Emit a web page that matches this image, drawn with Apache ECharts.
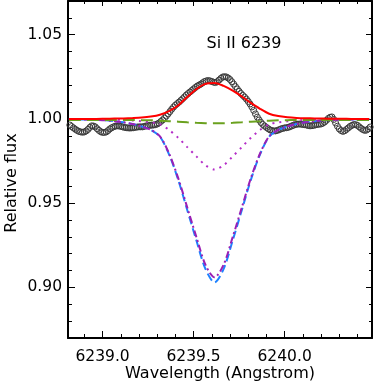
<!DOCTYPE html>
<html><head><meta charset="utf-8">
<script src="https://cdn.jsdelivr.net/npm/echarts@6/dist/echarts.min.js"></script>
<style>html,body{margin:0;padding:0;background:#fff}#c{width:374px;height:386px}</style>
</head><body><div id="c"></div>
<script>
// Model wavelength grid (Angstrom)
const xModel = [6238.815,6238.865,6238.915,6238.965,6239.015,6239.065,6239.115,6239.165,6239.215,6239.265,
  6239.315,6239.365,6239.415,6239.465,6239.515,6239.565,6239.615,6239.665,6239.715,6239.765,
  6239.815,6239.865,6239.915,6239.965,6240.015,6240.065,6240.115,6240.165,6240.215,6240.265,
  6240.315,6240.365,6240.415,6240.465];
// Emission fit (red solid)
const redFit = [1.0000,1.0000,1.0000,1.0000,1.0001,1.0002,1.0003,1.0005,1.0008,1.0014,
  1.0025,1.0047,1.0080,1.0130,1.0176,1.0208,1.0214,1.0196,1.0168,1.0133,
  1.0095,1.0060,1.0031,1.0017,1.0010,1.0006,1.0004,1.0003,1.0002,1.0001,
  1.0001,1.0000,1.0000,1.0000];
// Green dashed
const greenFit = [0.9994,0.9994,0.9994,0.9994,0.9994,0.9994,0.9994,0.9994,0.9993,0.9992,
  0.9990,0.9987,0.9984,0.9980,0.9977,0.9975,0.9974,0.9975,0.9977,0.9980,
  0.9984,0.9987,0.9990,0.9992,0.9993,0.9994,0.9994,0.9994,0.9994,0.9994,
  0.9994,0.9994,0.9994,0.9994];
// Magenta dotted
const dotFit = [0.9999,0.9999,0.9999,0.9998,0.9998,0.9996,0.9994,0.9991,0.9986,0.9980,
  0.9968,0.9935,0.9889,0.9833,0.9778,0.9725,0.9700,0.9725,0.9778,0.9833,
  0.9889,0.9935,0.9968,0.9980,0.9986,0.9991,0.9994,0.9996,0.9998,0.9998,
  0.9999,0.9999,0.9999,1.0000];
// Blue dashed
const blueFit = [0.9998,0.9997,0.9996,0.9995,0.9992,0.9987,0.9980,0.9970,0.9955,0.9935,
  0.9895,0.9790,0.9640,0.9460,0.9280,0.9110,0.9030,0.9110,0.9280,0.9460,
  0.9640,0.9790,0.9895,0.9935,0.9955,0.9970,0.9980,0.9987,0.9992,0.9995,
  0.9996,0.9997,0.9998,0.9999];
// Purple dash-dot
const purpleFit = [0.9998,0.9997,0.9996,0.9995,0.9992,0.9987,0.9980,0.9970,0.9955,0.9935,
  0.9897,0.9795,0.9650,0.9475,0.9300,0.9135,0.9060,0.9135,0.9300,0.9475,
  0.9650,0.9795,0.9897,0.9935,0.9955,0.9970,0.9980,0.9987,0.9992,0.9995,
  0.9996,0.9997,0.9998,0.9999];
// Observed spectrum (open circles), 0.01 A sampling from 6238.82
const xObs = [6238.82,6238.83,6238.84,6238.85,6238.86,6238.87,6238.88,6238.89,6238.90,6238.91,
  6238.92,6238.93,6238.94,6238.95,6238.96,6238.97,6238.98,6238.99,6239.00,6239.01,
  6239.02,6239.03,6239.04,6239.05,6239.06,6239.07,6239.08,6239.09,6239.10,6239.11,
  6239.12,6239.13,6239.14,6239.15,6239.16,6239.17,6239.18,6239.19,6239.20,6239.21,
  6239.22,6239.23,6239.24,6239.25,6239.26,6239.27,6239.28,6239.29,6239.30,6239.31,
  6239.32,6239.33,6239.34,6239.35,6239.36,6239.37,6239.38,6239.39,6239.40,6239.41,
  6239.42,6239.43,6239.44,6239.45,6239.46,6239.47,6239.48,6239.49,6239.50,6239.51,
  6239.52,6239.53,6239.54,6239.55,6239.56,6239.57,6239.58,6239.59,6239.60,6239.61,
  6239.62,6239.63,6239.64,6239.65,6239.66,6239.67,6239.68,6239.69,6239.70,6239.71,
  6239.72,6239.73,6239.74,6239.75,6239.76,6239.77,6239.78,6239.79,6239.80,6239.81,
  6239.82,6239.83,6239.84,6239.85,6239.86,6239.87,6239.88,6239.89,6239.90,6239.91,
  6239.92,6239.93,6239.94,6239.95,6239.96,6239.97,6239.98,6239.99,6240.00,6240.01,
  6240.02,6240.03,6240.04,6240.05,6240.06,6240.07,6240.08,6240.09,6240.10,6240.11,
  6240.12,6240.13,6240.14,6240.15,6240.16,6240.17,6240.18,6240.19,6240.20,6240.21,
  6240.22,6240.23,6240.24,6240.25,6240.26,6240.27,6240.28,6240.29,6240.30,6240.31,
  6240.32,6240.33,6240.34,6240.35,6240.36,6240.37,6240.38,6240.39,6240.40,6240.41,
  6240.42,6240.43,6240.44,6240.45,6240.46,6240.47];
const yObs = [0.9964,0.9955,0.9947,0.9939,0.9932,0.9926,0.9923,0.9921,0.9923,0.9929,
  0.9938,0.9950,0.9959,0.9958,0.9953,0.9942,0.9932,0.9924,0.9920,0.9920,
  0.9923,0.9931,0.9941,0.9948,0.9953,0.9957,0.9959,0.9958,0.9956,0.9953,
  0.9950,0.9948,0.9947,0.9946,0.9947,0.9948,0.9950,0.9952,0.9953,0.9953,
  0.9953,0.9956,0.9959,0.9961,0.9962,0.9963,0.9964,0.9966,0.9970,0.9976,
  0.9985,0.9994,1.0005,1.0017,1.0030,1.0044,1.0058,1.0071,1.0082,1.0091,
  1.0100,1.0110,1.0120,1.0131,1.0142,1.0151,1.0160,1.0169,1.0178,1.0187,
  1.0195,1.0201,1.0207,1.0215,1.0222,1.0226,1.0228,1.0226,1.0222,1.0218,
  1.0216,1.0221,1.0231,1.0241,1.0249,1.0251,1.0249,1.0243,1.0234,1.0221,
  1.0207,1.0192,1.0178,1.0164,1.0151,1.0140,1.0130,1.0118,1.0104,1.0089,
  1.0071,1.0051,1.0030,1.0011,0.9994,0.9979,0.9967,0.9958,0.9950,0.9942,
  0.9935,0.9931,0.9929,0.9929,0.9932,0.9936,0.9941,0.9944,0.9947,0.9948,
  0.9950,0.9954,0.9959,0.9963,0.9967,0.9969,0.9970,0.9969,0.9967,0.9966,
  0.9964,0.9961,0.9959,0.9960,0.9962,0.9965,0.9967,0.9969,0.9970,0.9975,
  0.9982,0.9992,1.0003,1.0010,1.0012,0.9997,0.9976,0.9957,0.9941,0.9931,
  0.9926,0.9930,0.9938,0.9947,0.9956,0.9962,0.9967,0.9966,0.9962,0.9953,
  0.9944,0.9937,0.9932,0.9934,0.9941,0.9952];
// Ticks
const xMajor = [6239.0, 6239.5, 6240.0];
const xMinor = [6238.9,6239.1,6239.2,6239.3,6239.4,6239.6,6239.7,6239.8,6239.9,6240.1,6240.2,6240.3,6240.4];
const yMajor = [0.90, 0.95, 1.00, 1.05];
const yMinor = [0.88,0.89,0.91,0.92,0.93,0.94,0.96,0.97,0.98,0.99,1.01,1.02,1.03,1.04,1.06];
const X_MIN = 6238.81, X_MAX = 6240.48, Y_MIN = 0.87, Y_MAX = 1.07;

const FONT = '"DejaVu Sans", sans-serif';
const pair = (xs, ys) => xs.map((x, i) => [x, ys[i]]);

function mkAxis(kind, pos, ticks, len, showLine, showLabel) {
  const isX = kind === 'x';
  return {
    type: 'value', position: pos,
    min: isX ? X_MIN : Y_MIN, max: isX ? X_MAX : Y_MAX,
    splitLine: {show: false},
    axisLine: {show: showLine, onZero: false, lineStyle: {color: '#000', width: 2}},
    axisTick: {show: true, inside: true, length: len, customValues: ticks, lineStyle: {color: '#000', width: 1}},
    axisLabel: showLabel ? {
      show: true, customValues: ticks, color: '#000', fontFamily: FONT, fontSize: 15.5,
      margin: isX ? 11 : 6,
      formatter: v => isX ? v.toFixed(1) : v.toFixed(2)
    } : {show: false}
  };
}

const chart = echarts.init(document.getElementById('c'), null, {renderer: 'canvas'});
chart.setOption({
  animation: false,
  backgroundColor: '#fff',
  grid: {left: 68, right: 2, top: 1, bottom: 48, containLabel: false},
  xAxis: [
    mkAxis('x', 'bottom', xMajor, 7, true, true),
    mkAxis('x', 'bottom', xMinor, 4, false, false),
    mkAxis('x', 'top', xMajor, 5, true, false),
    mkAxis('x', 'top', xMinor, 3, false, false)
  ],
  yAxis: [
    mkAxis('y', 'left', yMajor, 7, true, true),
    mkAxis('y', 'left', yMinor, 4, false, false),
    mkAxis('y', 'right', yMajor, 6, true, false),
    mkAxis('y', 'right', yMinor, 3, false, false)
  ],
  series: [
    {type: 'line', data: pair(xObs, yObs), symbol: 'circle', symbolSize: 6, showSymbol: true,
     lineStyle: {width: 0, opacity: 0},
     itemStyle: {color: 'rgba(255,255,255,0)', borderColor: '#3a3a3a', borderWidth: 1}, z: 2},
    {type: 'line', data: pair(xModel, blueFit), showSymbol: false, smooth: 0.3,
     lineStyle: {color: '#1e82ff', width: 2, type: [8, 4]}, z: 3},
    {type: 'line', data: pair(xModel, purpleFit), showSymbol: false, smooth: 0.3,
     lineStyle: {color: '#9b1fb4', width: 2, type: [7, 3, 2, 3]}, z: 4},
    {type: 'line', data: pair(xModel, dotFit), showSymbol: false, smooth: 0.3,
     lineStyle: {color: '#b42dc8', width: 2, type: [2, 5]}, z: 4},
    {type: 'line', data: pair(xModel, greenFit), showSymbol: false, smooth: 0.3,
     lineStyle: {color: '#6aa11e', width: 2, type: [12, 6]}, z: 4},
    {type: 'line', data: pair(xModel, redFit), showSymbol: false, smooth: 0.3,
     lineStyle: {color: '#ff0000', width: 2}, z: 5}
  ],
  graphic: [
    {type: 'text', x: 220, y: 374, style: {text: 'Wavelength (Angstrom)', font: '16px ' + FONT, fill: '#000', align: 'center', verticalAlign: 'middle'}},
    {type: 'text', x: 12, y: 183, rotation: Math.PI / 2, style: {text: 'Relative flux', font: '16px ' + FONT, fill: '#000', align: 'center', verticalAlign: 'middle'}},
    {type: 'text', x: 244, y: 44, style: {text: 'Si II 6239', font: '16px ' + FONT, fill: '#000', align: 'center', verticalAlign: 'middle'}}
  ]
});
</script>
</body></html>
